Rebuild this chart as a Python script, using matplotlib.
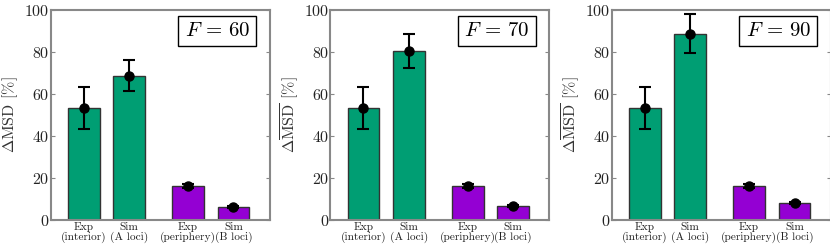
import matplotlib
matplotlib.use("Agg")
import matplotlib.pyplot as plt

plt.rcParams['font.family'] = ['cmr10', 'DejaVu Serif']
plt.rcParams['mathtext.fontset'] = 'cm'
plt.rcParams['axes.formatter.use_mathtext'] = True

# data
forces = [60, 70, 90]
labels = ["Exp\n(interior)", "Sim\n(A loci)", "Exp\n(periphery)", "Sim\n(B loci)"]
exp_interior = [53.5, 53.5, 53.5]
exp_interior_err = [10.0, 10.0, 10.0]
sim_a = [68.8, 80.7, 88.7]
sim_a_err = [7.6, 8.1, 9.3]
exp_periphery = [16.3, 16.3, 16.3]
exp_periphery_err = [1.0, 1.0, 1.0]
sim_b = [6.0, 6.8, 8.2]
sim_b_err = [0.5, 0.5, 0.5]

xpos = [0, 1, 2.3, 3.3]
colors = ["#009e73", "#009e73", "#9400d3", "#9400d3"]
lefts = [0.061, 0.398, 0.737]

fig = plt.figure(figsize=(8.3, 2.5), dpi=100)

for k, F in enumerate(forces):
    ax = fig.add_axes([lefts[k], 0.12, 0.264, 0.84])
    vals = [exp_interior[k], sim_a[k], exp_periphery[k], sim_b[k]]
    errs = [exp_interior_err[k], sim_a_err[k], exp_periphery_err[k], sim_b_err[k]]
    ax.bar(xpos, vals, width=0.7, color=colors, edgecolor="#333333", linewidth=1.0)
    ax.errorbar(xpos, vals, yerr=errs, fmt="o", color="black", ms=6.5,
                capsize=4, elinewidth=1.5, capthick=1.5)
    ax.set_xlim(-0.73, 4.1)
    ax.set_ylim(0, 100)
    ax.set_yticks([0, 20, 40, 60, 80, 100])
    ax.set_xticks(xpos)
    ax.set_xticklabels(labels, fontsize=8.2, linespacing=1.0)
    ax.tick_params(axis="y", labelsize=11.5, direction="in", right=True,
                   color="#888888", length=3, pad=1, labelcolor="#222222")
    ax.tick_params(axis="x", length=0, pad=1.5, labelcolor="#222222")
    for s in ax.spines.values():
        s.set_color("#888888")
        s.set_linewidth(1.5)
    ax.set_ylabel(r"$\Delta\overline{\rm MSD}$ [%]", fontsize=11.5, color="#333333", labelpad=2)
    ax.text(0.91, 0.9, r"$F$ = %d" % F, transform=ax.transAxes, fontsize=15,
            ha="right", va="center",
            bbox=dict(boxstyle="square,pad=0.3", facecolor="white", edgecolor="black", linewidth=1))

fig.savefig("out.png", dpi=100)
